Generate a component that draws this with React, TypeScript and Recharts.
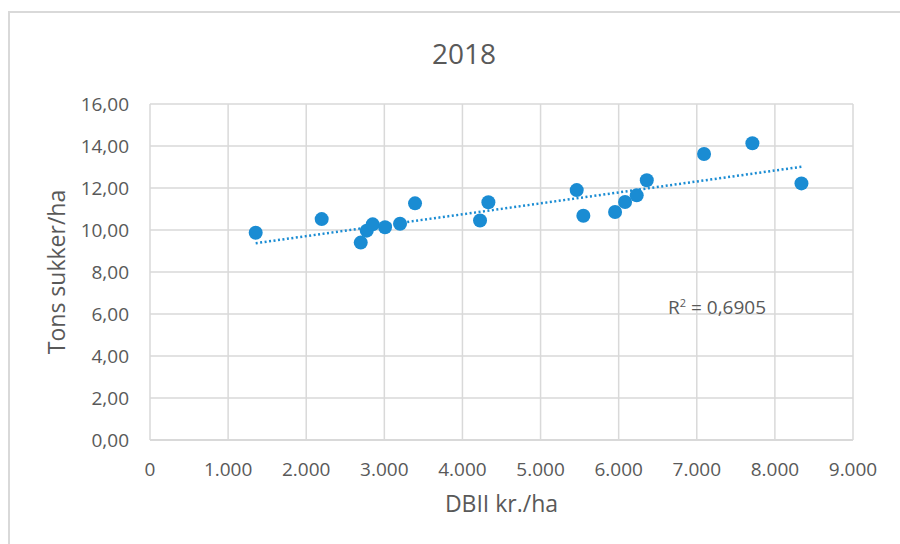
import {
  ScatterChart,
  Scatter,
  XAxis,
  YAxis,
  CartesianGrid,
  ReferenceLine,
} from "recharts";

// DBII kr./ha
const dbii = [
  1353, 2198, 2698, 2775, 2851, 3009, 3201, 3393, 4225, 4332, 5463, 5548, 5954,
  6082, 6231, 6360, 7093, 7712, 8340,
];
// Tons sukker/ha
const sukker = [
  9.87, 10.52, 9.4, 9.97, 10.27, 10.13, 10.3, 11.27, 10.45, 11.32, 11.9, 10.68,
  10.86, 11.33, 11.65, 12.37, 13.62, 14.13, 12.22,
];
// linear trendline endpoints (as drawn)
const trendX = [1353, 8340];
const trendY = [9.37, 13.01];

const xTicks = [0, 1000, 2000, 3000, 4000, 5000, 6000, 7000, 8000, 9000];
const yTicks = [0, 2, 4, 6, 8, 10, 12, 14, 16];

const TEXT = "#595959";
const GRID = "#d9d9d9";
const BLUE = "#1a8cd3";
const FONT = "'Open Sans', sans-serif";

const points = dbii.map((x, i) => ({ x, y: sukker[i] }));

const fmtX = (v: number) =>
  v === 0 ? "0" : v.toLocaleString("de-DE", { maximumFractionDigits: 0 });
const fmtY = (v: number) => v.toFixed(2).replace(".", ",");

const Dot = (props: any) => (
  <circle cx={props.cx} cy={props.cy} r={7} fill={BLUE} />
);

export default function App() {
  return (
    <div
      style={{
        position: "relative",
        width: 900,
        height: 544,
        background: "#fff",
        fontFamily: FONT,
        overflow: "hidden",
      }}
    >
      <style>{`body{margin:0}`}</style>
      <div
        style={{
          position: "absolute",
          left: 8,
          top: 11,
          width: 900,
          height: 544,
          borderTop: `2px solid ${GRID}`,
          borderLeft: `2px solid ${GRID}`,
        }}
      />
      <div
        style={{
          position: "absolute",
          left: 0,
          width: 900,
          top: 33,
          paddingLeft: 14,
          textAlign: "center",
          fontSize: 28,
          color: TEXT,
          lineHeight: "40px",
        }}
      >
        2018
      </div>
      <div style={{ position: "absolute", left: 0, top: 0 }}>
        <ScatterChart
          width={900}
          height={544}
          margin={{ top: 104, right: 47, bottom: 0, left: 0 }}
        >
          <CartesianGrid stroke={GRID} strokeWidth={1.5} />
          <XAxis
            type="number"
            dataKey="x"
            domain={[0, 9000]}
            ticks={xTicks}
            tickFormatter={fmtX}
            height={104}
            tickSize={0}
            tickMargin={23}
            axisLine={{ stroke: GRID, strokeWidth: 2 }}
            tick={{ fill: TEXT, fontSize: 19, fontFamily: FONT }}
            label={{
              value: "DBII kr./ha",
              position: "insideTop",
              offset: 56,
              fill: TEXT,
              fontSize: 23,
              fontFamily: FONT,
            }}
          />
          <YAxis
            type="number"
            dataKey="y"
            domain={[0, 16]}
            ticks={yTicks}
            tickFormatter={fmtY}
            width={150}
            tickSize={0}
            tickMargin={21}
            axisLine={false}
            tick={{ fill: TEXT, fontSize: 19, fontFamily: FONT }}
            label={{
              value: "Tons sukker/ha",
              angle: -90,
              position: "center",
              dx: -18,
              fill: TEXT,
              fontSize: 23,
              fontFamily: FONT,
            }}
          />
          <ReferenceLine
            segment={[
              { x: trendX[0], y: trendY[0] },
              { x: trendX[1], y: trendY[1] },
            ]}
            stroke={BLUE}
            strokeWidth={2.5}
            strokeDasharray="2 2.5"
          />
          <Scatter
            data={points}
            fill={BLUE}
            shape={Dot}
            isAnimationActive={false}
          />
        </ScatterChart>
      </div>
      <div
        style={{
          position: "absolute",
          left: 668,
          top: 290,
          fontSize: 19,
          color: TEXT,
          lineHeight: "26px",
          whiteSpace: "nowrap",
        }}
      >
        R<sup style={{ fontSize: 11 }}>2</sup> = 0,6905
      </div>
    </div>
  );
}
